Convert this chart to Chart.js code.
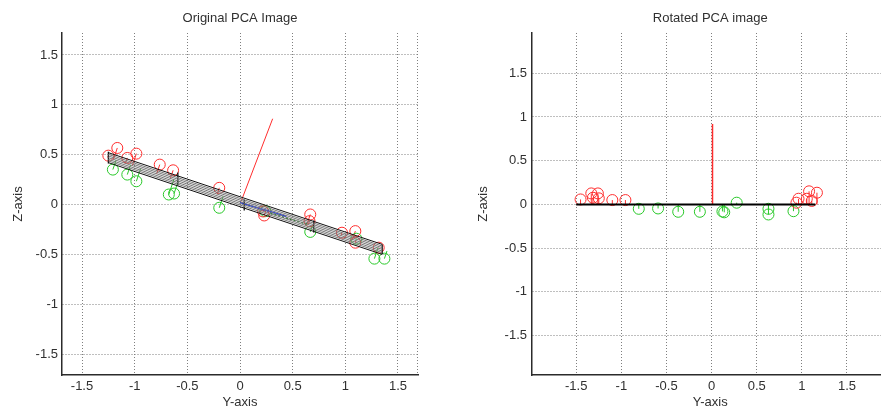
<!DOCTYPE html>
<html>
<head>
<meta charset="utf-8">
<script src="https://cdn.jsdelivr.net/npm/chart.js@4.4.0/dist/chart.umd.min.js"></script>
<style>
  html, body { margin: 0; padding: 0; background: #fff; overflow: hidden; }
  #wrap { position: relative; width: 881px; height: 412px; overflow: hidden; }
  .box { position: absolute; top: 0; height: 412px; }
</style>
</head>
<body>
<div id="wrap">
  <div class="box" style="left:0;width:440px"><canvas id="leftChart" width="440" height="412"></canvas></div>
  <!-- the right figure is cropped by the window, like the original screenshot -->
  <div class="box" style="left:440px;width:455px"><canvas id="rightChart" width="455" height="412"></canvas></div>
</div>
<script>
// ---- left panel: original data ----
const leftRedY   = [-1.25, -1.165, -1.07, -0.984, -0.762, -0.635, -0.197, 0.22, 0.23, 0.667, 0.66, 0.968, 1.095, 1.095, 1.317];
const leftRedZ   = [0.49, 0.567, 0.467, 0.51, 0.40, 0.343, 0.167, -0.07, -0.11, -0.10, -0.167, -0.283, -0.267, -0.383, -0.433];
const leftGreenY = [-1.207, -1.07, -0.984, -0.676, -0.626, -0.197, 0.24, 0.667, 1.105, 1.276, 1.371];
const leftGreenZ = [0.35, 0.30, 0.233, 0.10, 0.11, -0.033, -0.067, -0.275, -0.343, -0.543, -0.543];

// bundle of parallel black lines along the first component
const bandStartY = -1.25;
const bandEndY   = 1.35;
const bandStartZ = [0.52, 0.503, 0.487, 0.47, 0.453, 0.437, 0.42];
const bandEndZ   = [-0.40, -0.417, -0.433, -0.45, -0.467, -0.483, -0.50];

// short cross lines on the bundle
const capY       = [-1.25, -0.59, 0.04, 0.70, 1.35];
const capTopZ    = [0.53, 0.32, 0.05, -0.16, -0.40];
const capBottomZ = [0.41, 0.19, -0.06, -0.28, -0.50];

const leftArrowY = [0.01, 0.31];
const leftArrowZ = [0.03, 0.86];
const blueY      = [0.0, 0.44];
const blueZ      = [0.02, -0.12];
const dashY      = [0.29, 0.65];
const dashZ      = [-0.09, -0.20];

// ---- right panel: rotated data ----
const rightRedY   = [-1.452, -1.333, -1.26, -1.315, -1.25, -1.10, -0.955, 0.94, 0.963, 1.055, 1.08, 1.11, 1.167];
const rightRedZ   = [0.057, 0.126, 0.126, 0.077, 0.07, 0.05, 0.05, 0.02, 0.065, 0.065, 0.15, 0.04, 0.134];
const rightGreenY = [-0.807, -0.593, -0.37, -0.13, 0.12, 0.14, 0.278, 0.63, 0.63, 0.907];
const rightGreenZ = [-0.05, -0.046, -0.084, -0.084, -0.08, -0.09, 0.02, -0.05, -0.115, -0.077];
const rightLineY  = [-1.5, 1.15];
const rightLineZ  = [0, 0];
const rightArrowY = [0.01, 0.01];
const rightArrowZ = [0, 0.92];

const RED = 'rgb(255,45,45)';
const GREEN = 'rgb(40,200,40)';
const FONT = "'Liberation Sans', Arial, sans-serif";

const pts = (ys, zs) => ys.map((v, i) => ({ x: v, y: zs[i] }));

function lineSet(ys, zs, color, width, dash) {
  return { data: pts(ys, zs), showLine: true, borderColor: color, borderWidth: width,
           borderDash: dash || [], pointRadius: 0, fill: false };
}
function circleSet(ys, zs, color) {
  return { data: pts(ys, zs), showLine: false, borderColor: color, backgroundColor: 'rgba(0,0,0,0)',
           pointStyle: 'circle', pointRadius: 5.5, borderWidth: 1, stem: true };
}

// little lines from each circle to the reference line, plus dotted right edge
const stemsPlugin = {
  id: 'stems',
  beforeDatasetsDraw(chart, args, opts) {
    const xs = chart.scales.x, ys = chart.scales.y, ctx = chart.ctx;
    const a = chart.chartArea;
    ctx.save();
    if (opts.rightEdge) {
      ctx.strokeStyle = '#7f7f7f'; ctx.lineWidth = 1; ctx.setLineDash([1, 2]);
      ctx.beginPath(); ctx.moveTo(Math.round(a.right) - 0.5, a.top); ctx.lineTo(Math.round(a.right) - 0.5, a.bottom); ctx.stroke();
      ctx.setLineDash([]);
    }
    if (opts.ref) {
      const ax = xs.getPixelForValue(opts.ref[0]), ay = ys.getPixelForValue(opts.ref[1]);
      const bx = xs.getPixelForValue(opts.ref[2]), by = ys.getPixelForValue(opts.ref[3]);
      const dx = bx - ax, dy = by - ay, len2 = dx * dx + dy * dy;
      chart.data.datasets.forEach((ds, i) => {
        if (!ds.stem) return;
        chart.getDatasetMeta(i).data.forEach(p => {
          const t = ((p.x - ax) * dx + (p.y - ay) * dy) / len2;
          ctx.beginPath(); ctx.moveTo(p.x, p.y); ctx.lineTo(ax + t * dx, ay + t * dy);
          ctx.strokeStyle = ds.borderColor; ctx.lineWidth = 1; ctx.stroke();
        });
      });
    }
    ctx.restore();
  }
};

function axis(min, max, title, fit, tickPad, titlePad) {
  return {
    type: 'linear', min: min, max: max,
    afterFit: fit,
    ticks: { stepSize: 0.5, includeBounds: false, color: '#303030', padding: tickPad,
             font: { family: FONT, size: 13 }, callback: v => String(v) },
    grid: { color: '#7f7f7f', lineWidth: 1, drawTicks: false },
    border: { display: true, color: '#2b2b2b', width: 1.5, dash: [1, 2] },
    title: { display: true, text: title, color: '#303030', padding: titlePad,
             font: { family: FONT, size: 13 } }
  };
}

function options(cfg) {
  return {
    responsive: false,
    animation: false,
    layout: { padding: { left: 0, right: cfg.padRight, top: 0, bottom: 0 } },
    plugins: {
      legend: { display: false },
      tooltip: { enabled: false },
      title: { display: true, text: cfg.title, fullSize: false, color: '#303030',
               font: { family: FONT, size: 13, weight: 'normal' }, padding: { top: 10.2, bottom: 7.2 } },
      stems: { ref: cfg.ref, rightEdge: cfg.rightEdge }
    },
    scales: {
      x: axis(cfg.xMin, cfg.xMax, 'Y-axis', s => { s.height = 37; }, 4, { top: 0, bottom: 2 }),
      y: axis(cfg.yMin, cfg.yMax, 'Z-axis', s => { s.width = cfg.yWidth; }, cfg.yTickPad, { top: cfg.yTitlePad, bottom: 0 })
    }
  };
}

const leftSets = [];
bandStartZ.forEach((z0, i) => {
  const edge = (i === 0 || i === bandStartZ.length - 1);
  leftSets.push(lineSet([bandStartY, bandEndY], [z0, bandEndZ[i]], edge ? '#111' : '#777', 1));
});
capY.forEach((y, i) => leftSets.push(lineSet([y, y], [capTopZ[i], capBottomZ[i]], '#000', 1.2)));
leftSets.push(lineSet(leftArrowY, leftArrowZ, RED, 1));
leftSets.push(lineSet(blueY, blueZ, '#1030ff', 1.5));
leftSets.push(lineSet(dashY, dashZ, '#108010', 1.5, [2, 2]));
leftSets.push(circleSet(leftRedY, leftRedZ, RED));
leftSets.push(circleSet(leftGreenY, leftGreenZ, GREEN));

new Chart(document.getElementById('leftChart'), {
  type: 'scatter',
  data: { datasets: leftSets },
  options: options({ title: 'Original PCA Image', padRight: 22, xMin: -1.69, xMax: 1.69, yMin: -1.71, yMax: 1.72,
                     yWidth: 62, yTickPad: 4, yTitlePad: 11, ref: [bandStartY, 0.47, bandEndY, -0.45], rightEdge: true }),
  plugins: [stemsPlugin]
});

const rightSets = [
  lineSet(rightLineY, rightLineZ, '#000', 2),
  lineSet(rightArrowY, rightArrowZ, RED, 1.5),
  circleSet(rightRedY, rightRedZ, RED),
  circleSet(rightGreenY, rightGreenZ, GREEN)
];

new Chart(document.getElementById('rightChart'), {
  type: 'scatter',
  data: { datasets: rightSets },
  options: options({ title: 'Rotated PCA image', padRight: 0, xMin: -1.99, xMax: 1.96, yMin: -1.95, yMax: 1.96,
                     yWidth: 92, yTickPad: 5, yTitlePad: 36, ref: [-1, 0, 1, 0], rightEdge: false }),
  plugins: [stemsPlugin]
});
</script>
</body>
</html>
